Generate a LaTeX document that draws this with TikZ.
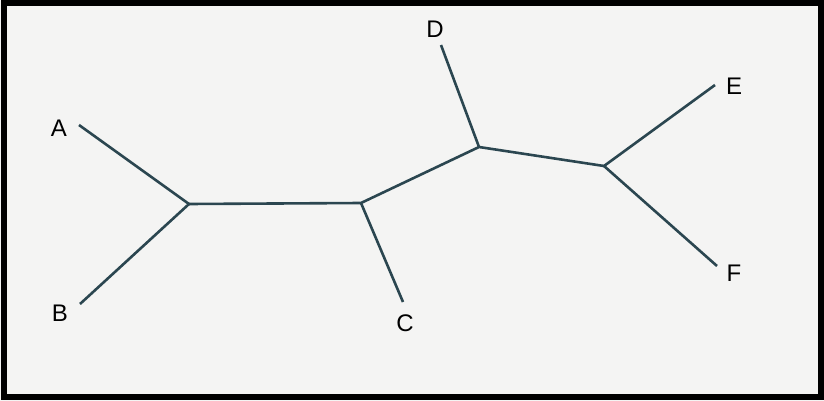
\documentclass[tikz,border=0pt]{standalone}
\usepackage{fontspec}
\setmainfont{Liberation Sans}
\definecolor{branch}{HTML}{2B4650}
\definecolor{paper}{HTML}{F4F4F3}
\begin{document}
\begin{tikzpicture}[x=1pt,y=-1pt,
  edge/.style={draw=branch,line width=2.6pt},
  lbl/.style={font=\fontsize{24}{24}\selectfont,inner sep=0pt,text=black}]
\useasboundingbox (0,0) rectangle (824,401);
\fill[paper] (0,0) rectangle (824,401);
\draw[line width=6pt,black] (3.5,3.5) rectangle (820.5,396.5);
% internal nodes
\coordinate (n1) at (189,204);
\coordinate (n2) at (361,203);
\coordinate (n3) at (479,147);
\coordinate (n4) at (604,166);
% leaf ends
\coordinate (a) at (79,125);
\coordinate (b) at (80,304);
\coordinate (c) at (403,302);
\coordinate (d) at (441,45);
\coordinate (e) at (715,85);
\coordinate (f) at (717,266);
% labels
\node[lbl] (la) at (59,128) {A};
\node[lbl] (lb) at (60,313) {B};
\node[lbl] (lc) at (405,323) {C};
\node[lbl] (ld) at (435,29) {D};
\node[lbl] (le) at (734,86) {E};
\node[lbl] (lf) at (734,273) {F};
% branches
\draw[edge] (a) -- (n1) -- (b);
\draw[edge] (n1) -- (n2) -- (n3) -- (n4);
\draw[edge] (n2) -- (c);
\draw[edge] (n3) -- (d);
\draw[edge] (e) -- (n4) -- (f);
\end{tikzpicture}
\end{document}
